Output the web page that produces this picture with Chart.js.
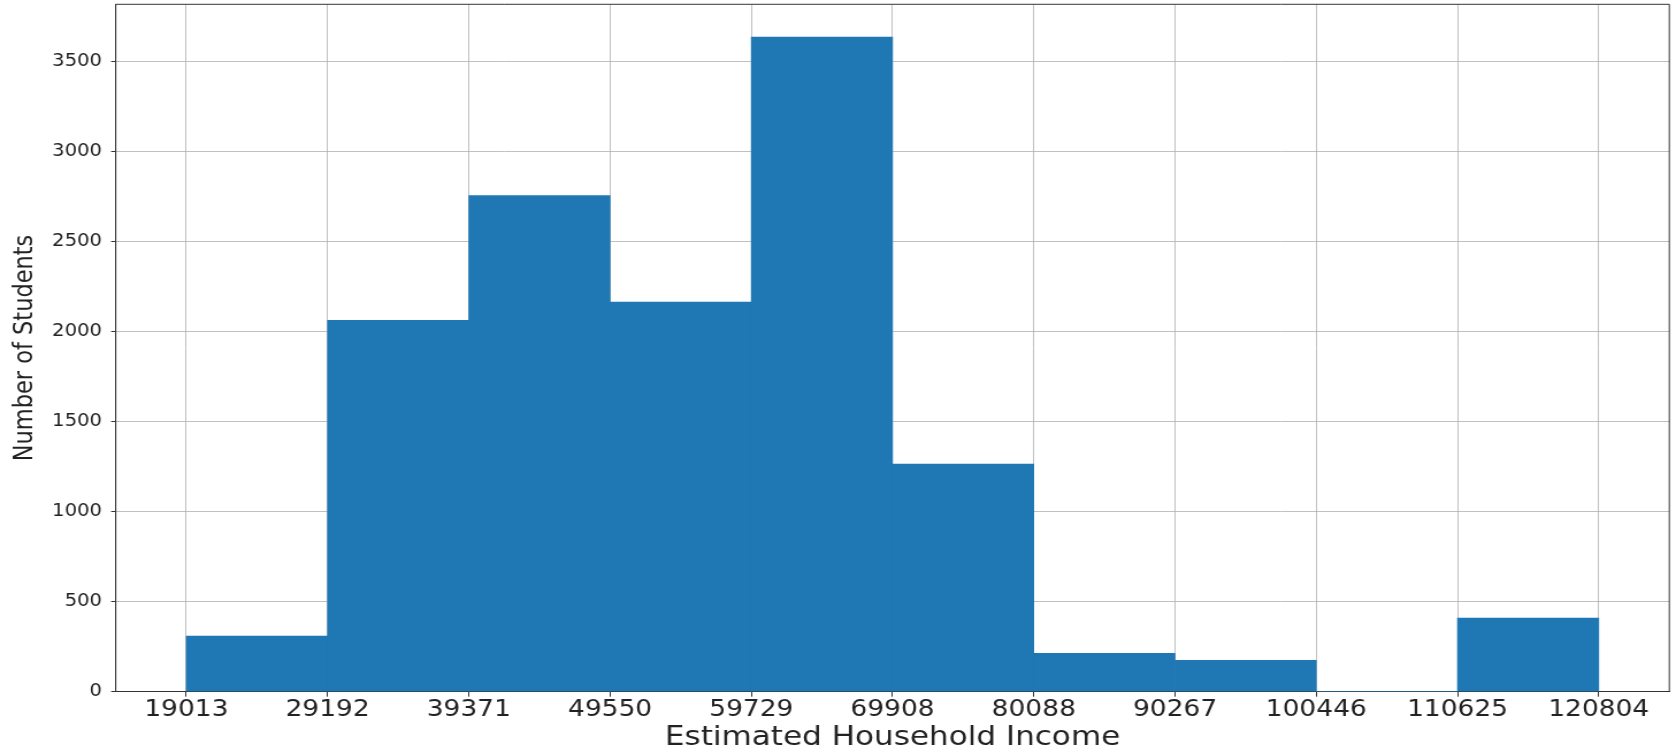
<!DOCTYPE html>
<html lang="en">
<head>
  <meta charset="UTF-8">
  <title>Estimated Household Income</title>
  <script src="https://cdn.jsdelivr.net/npm/chart.js"></script>
  <style>
    body {
      margin: 0;
      background: #fff;
    }
    /* the reference is stretched sideways, so the canvas is too */
    #incomeChart {
      display: block;
      width: 1676px !important;
      height: 751px !important;
    }
  </style>
</head>
<body>
  <canvas id="incomeChart" width="1457" height="751" style="width:1676px;height:751px"></canvas>

  <script>
    // bin edges, as printed on the x axis
    const binEdges = ['19013', '29192', '39371', '49550', '59729', '69908',
                      '80088', '90267', '100446', '110625', '120804'];
    // number of students in each bin
    const counts = [309, 2063, 2756, 2164, 3637, 1264, 213, 174, 0, 409];
    const yTicks = [0, 500, 1000, 1500, 2000, 2500, 3000, 3500];

    const edges = binEdges.map(Number);
    const points = counts.map((c, i) => ({ x: (edges[i] + edges[i + 1]) / 2, y: c }));

    const span = edges[edges.length - 1] - edges[0];
    const xMin = edges[0] - span * 0.05;
    const xMax = edges[edges.length - 1] + span * 0.05;
    const yMax = Math.max(...counts) * 1.05;

    const gridColor = 'rgba(176,176,176,0.8)';
    const inkColor = '#333';

    // top and right spines
    const frame = {
      id: 'frame',
      afterDraw(chart) {
        const { ctx, chartArea: a } = chart;
        ctx.save();
        ctx.strokeStyle = inkColor;
        ctx.lineWidth = 1;
        ctx.beginPath();
        ctx.moveTo(a.left, a.bottom);
        ctx.lineTo(a.left, a.top);
        ctx.lineTo(a.right, a.top);
        ctx.lineTo(a.right, a.bottom);
        ctx.stroke();
        ctx.restore();
      }
    };

    new Chart(document.getElementById('incomeChart'), {
      type: 'bar',
      data: {
        datasets: [{
          data: points,
          backgroundColor: '#1f77b4',
          borderWidth: 0,
          barPercentage: 1,
          categoryPercentage: 1
        }]
      },
      options: {
        responsive: false,
        animation: false,
        devicePixelRatio: 1,
        layout: { padding: { left: 0, right: 5.8, top: 4.3, bottom: 0 } },
        plugins: {
          legend: { display: false },
          tooltip: { enabled: false }
        },
        scales: {
          x: {
            type: 'linear',
            offset: false,
            min: xMin,
            max: xMax,
            z: 1,
            afterBuildTicks: s => { s.ticks = edges.map(v => ({ value: v })); },
            afterFit: s => { s.height = 59.3; s.paddingLeft = 0; s.paddingRight = 0; },
            ticks: {
              autoSkip: false,
              maxRotation: 0,
              padding: 2,
              color: '#222',
              font: { family: 'DejaVu Sans', size: 23, lineHeight: 1 },
              callback: (v, i) => binEdges[i]
            },
            grid: {
              offset: false,
              color: gridColor,
              lineWidth: 1,
              tickLength: 5,
              tickColor: inkColor
            },
            border: { color: inkColor, width: 1 },
            title: {
              display: true,
              text: 'Estimated Household Income',
              color: '#222',
              padding: { top: 0, bottom: 0 },
              font: { family: 'DejaVu Sans', size: 27, lineHeight: 1 }
            }
          },
          y: {
            min: 0,
            max: yMax,
            z: 1,
            afterBuildTicks: s => { s.ticks = yTicks.map(v => ({ value: v })); },
            afterFit: s => { s.width = 100.6; s.paddingTop = 0; s.paddingBottom = 0; },
            ticks: {
              padding: 8,
              color: '#222',
              font: { family: 'DejaVu Sans', size: 17 },
              callback: v => String(v)
            },
            grid: {
              color: gridColor,
              lineWidth: 1,
              tickLength: 4,
              tickColor: inkColor
            },
            border: { color: inkColor, width: 1 },
            title: {
              display: true,
              text: 'Number of Students',
              color: '#222',
              padding: { top: 9, bottom: 0 },
              font: { family: 'DejaVu Sans', size: 22.5, lineHeight: 1.2 }
            }
          }
        }
      },
      plugins: [frame]
    });
  </script>
</body>
</html>
